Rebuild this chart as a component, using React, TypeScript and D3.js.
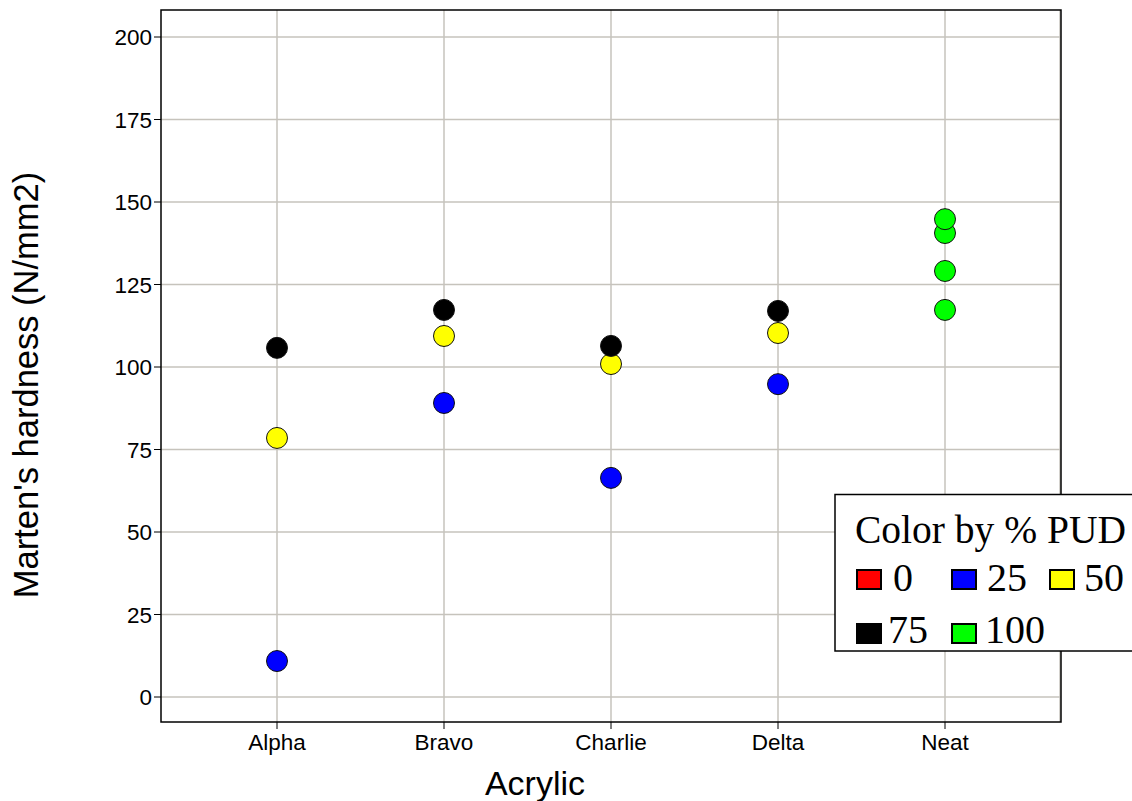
import React from "react";
import * as d3 from "d3";

const categories = ["Alpha", "Bravo", "Charlie", "Delta", "Neat"];
const pudLevels = ["0", "25", "50", "75", "100"];
const pudColors = ["#ff0000", "#0000ff", "#ffff00", "#000000", "#00ff00"];
const yTicks = [0, 25, 50, 75, 100, 125, 150, 175, 200];

// each point: category, % PUD, hardness
const pointCategory = ["Alpha", "Alpha", "Alpha", "Bravo", "Bravo", "Bravo", "Charlie", "Charlie", "Charlie", "Delta", "Delta", "Delta", "Neat", "Neat", "Neat", "Neat"];
const pointPud = ["25", "50", "75", "25", "50", "75", "25", "50", "75", "25", "50", "75", "100", "100", "100", "100"];
const pointHardness = [10.9, 78.5, 105.8, 89.1, 109.4, 117.3, 66.4, 100.9, 106.4, 94.8, 110.3, 117.0, 117.3, 129.1, 140.6, 144.8];

const W = 1132;
const H = 801;
const plot = { left: 161, right: 1061, top: 10, bottom: 722 };

export default function App() {
  const x = d3.scalePoint<string>().domain(categories).range([277, 945]);
  const y = d3.scaleLinear().domain([0, 200]).range([697, 37]);
  const color = d3.scaleOrdinal<string, string>().domain(pudLevels).range(pudColors);
  const sans = "'Liberation Sans', Arial, sans-serif";
  const serif = "'Liberation Serif', 'Times New Roman', serif";

  const legendItems = [
    { level: "0", sx: 857, sy: 570, tx: 893, ty: 591 },
    { level: "25", sx: 952, sy: 570, tx: 987, ty: 591 },
    { level: "50", sx: 1050, sy: 570, tx: 1084, ty: 591 },
    { level: "75", sx: 857, sy: 624, tx: 888, ty: 643 },
    { level: "100", sx: 952, sy: 624, tx: 985, ty: 643 },
  ];

  return (
    <svg width={W} height={H} style={{ position: "fixed", left: 0, top: 0, background: "#fff" }}>
      {/* grid */}
      {yTicks.map((t) => (
        <line key={"gy" + t} x1={plot.left} x2={plot.right} y1={y(t)} y2={y(t)} stroke="#c6c3bc" strokeWidth={1.5} />
      ))}
      {categories.map((c) => (
        <line key={"gx" + c} x1={x(c)} x2={x(c)} y1={plot.top} y2={plot.bottom} stroke="#c6c3bc" strokeWidth={1.5} />
      ))}
      <line x1={plot.right - 1} x2={plot.right - 1} y1={plot.top} y2={plot.bottom} stroke="#c6c3bc" strokeWidth={1.5} />
      {/* frame */}
      <rect x={plot.left} y={plot.top} width={plot.right - plot.left} height={plot.bottom - plot.top} fill="none" stroke="#000" strokeWidth={1.5} />
      {/* y axis ticks */}
      {yTicks.map((t) => (
        <g key={"yt" + t}>
          <line x1={plot.left - 7} x2={plot.left} y1={y(t)} y2={y(t)} stroke="#000" strokeWidth={1} />
          <text x={plot.left - 9} y={y(t)} dy="0.36em" textAnchor="end" fontFamily={sans} fontSize={22.5} fill="#000">
            {t}
          </text>
        </g>
      ))}
      {/* x axis ticks */}
      {categories.map((c) => (
        <g key={"xt" + c}>
          <line x1={x(c)} x2={x(c)} y1={plot.bottom} y2={plot.bottom + 7} stroke="#000" strokeWidth={1} />
          <text x={x(c)} y={750} textAnchor="middle" fontFamily={sans} fontSize={22.5} fill="#000">
            {c}
          </text>
        </g>
      ))}
      {/* titles */}
      <text x={535} y={795} textAnchor="middle" fontFamily={sans} fontSize={34} fill="#000">
        Acrylic
      </text>
      <text transform="translate(38,385) rotate(-90)" textAnchor="middle" fontFamily={sans} fontSize={34.5} fill="#000">
        Marten's hardness (N/mm2)
      </text>
      {/* points */}
      {pointHardness.map((v, i) => (
        <circle key={"p" + i} cx={x(pointCategory[i])} cy={y(v)} r={10.5} fill={color(pointPud[i])} stroke="#111" strokeWidth={1} />
      ))}
      {/* legend */}
      <rect x={835} y={494.5} width={310} height={156.5} fill="#fff" stroke="#000" strokeWidth={1.5} />
      <text x={855} y={543} fontFamily={serif} fontSize={39.5} fill="#000">
        Color by % PUD
      </text>
      {legendItems.map((it) => (
        <g key={"lg" + it.level}>
          <rect x={it.sx} y={it.sy} width={24} height={19} fill={color(it.level)} stroke="#000" strokeWidth={2} />
          <text x={it.tx} y={it.ty} fontFamily={serif} fontSize={40} fill="#000">
            {it.level}
          </text>
        </g>
      ))}
    </svg>
  );
}
